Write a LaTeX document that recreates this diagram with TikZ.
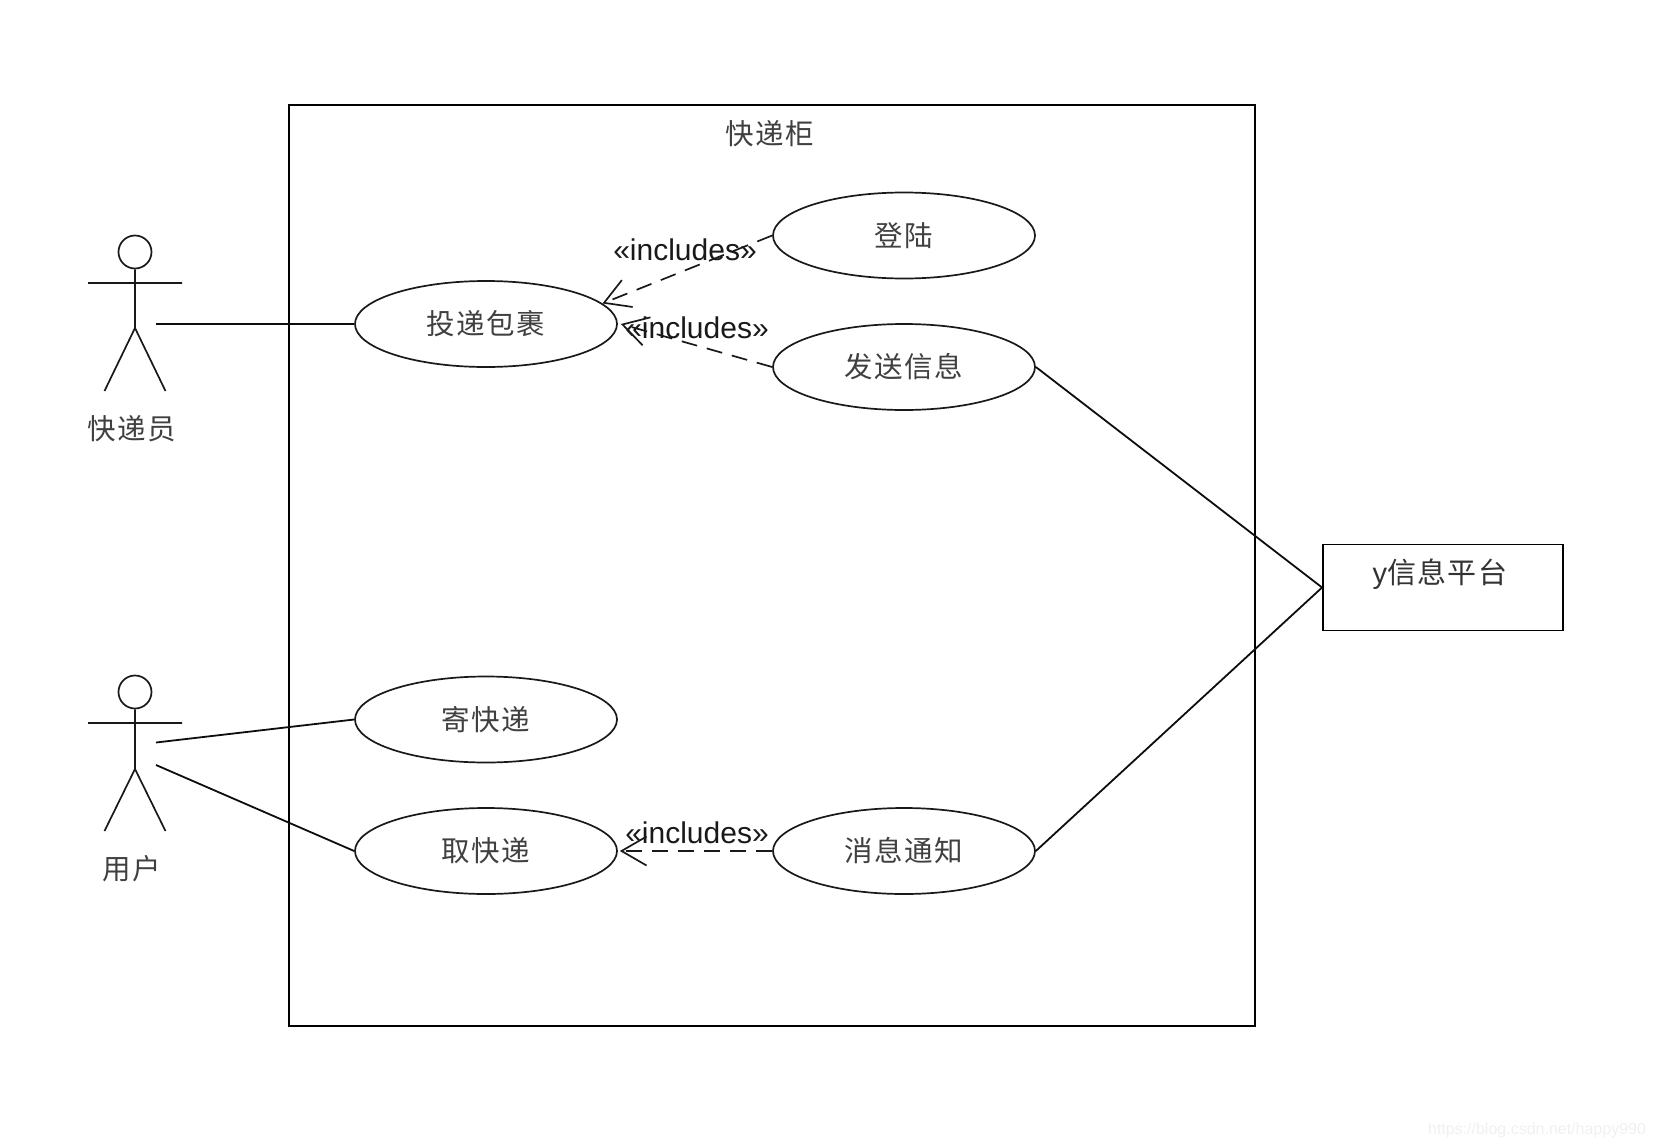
\documentclass[tikz,border=0pt]{standalone}
\usepackage{fontspec}
\setmainfont{Liberation Sans}
\newfontfamily\cjk[LetterSpace=5]{Noto Sans CJK SC}
\usetikzlibrary{shapes.geometric,arrows.meta}
\tikzset{
  usecase/.style={ellipse,draw,line width=1.7pt,black!90,minimum width=262pt,minimum height=86pt,inner sep=0pt,text=black!75,font=\fontsize{28.5}{30}\selectfont\cjk},
  boundary/.style={rectangle,draw,line width=1.9pt,inner sep=0pt},
  cnlabel/.style={inner sep=0pt,text=black!75,font=\fontsize{28.5}{30}\selectfont\cjk},
  stereotype/.style={inner sep=0pt,text=black!90,font=\fontsize{30}{32}\selectfont},
  incl/.style={line width=1.7pt,black!90,dash pattern=on 16pt off 10pt,-{Straight Barb[length=25pt,width=29pt,line width=1.7pt]}},
  assoc/.style={line width=1.8pt,black!95},
  actorline/.style={line width=1.7pt,black!90},
}
\begin{document}
\begin{tikzpicture}[x=1pt,y=-1pt]
\useasboundingbox (0,0) rectangle (1654,1148);
% system boundary
\node[boundary,minimum width=966pt,minimum height=921.5pt] (sys) at (772,565.5) {};
\node[cnlabel] (title) at (770,134) {快递柜};
% use cases
\node[usecase] (tou) at (486,324) {投递包裹};
\node[usecase] (deng) at (904,235.5) {登陆};
\node[usecase] (fa) at (904,367) {发送信息};
\node[usecase] (ji) at (486,719.5) {寄快递};
\node[usecase] (qu) at (486,851) {取快递};
\node[usecase] (xiao) at (904,851) {消息通知};
% external system
\node[boundary,minimum width=240pt,minimum height=86pt] (plat) at (1443,587.5) {};
\node[inner sep=0pt,text=black!80,font=\fontsize{29}{30}\selectfont] (plattext) at (1440,574) {y{\cjk 信息平台}};
% actor 1
\node[circle,draw,line width=1.7pt,black!90,minimum size=33pt,inner sep=0pt] (head1) at (135,252) {};
\coordinate (hip1) at (135,328);
\coordinate (armL1) at (88,283);
\coordinate (armR1) at (182,283);
\coordinate (legL1) at (104.5,391);
\coordinate (legR1) at (165.5,391);
\coordinate (a1) at (156,324);
\draw[actorline] (head1.south) -- (hip1) (armL1) -- (armR1) (legL1) -- (hip1) -- (legR1);
\node[cnlabel] (lab1) at (132,429) {快递员};
% actor 2
\node[circle,draw,line width=1.7pt,black!90,minimum size=33pt,inner sep=0pt] (head2) at (135,692) {};
\coordinate (hip2) at (135,769);
\coordinate (armL2) at (88,723);
\coordinate (armR2) at (182,723);
\coordinate (legL2) at (104.5,831);
\coordinate (legR2) at (165.5,831);
\coordinate (a2a) at (156,742.5);
\coordinate (a2b) at (156,765);
\draw[actorline] (head2.south) -- (hip2) (armL2) -- (armR2) (legL2) -- (hip2) -- (legR2);
\node[cnlabel] (lab2) at (132,869) {用户};
% associations
\draw[assoc] (a1) -- (tou.west);
\draw[assoc] (a2a) -- (ji.west);
\draw[assoc] (a2b) -- (qu.west);
\draw[assoc] (fa.east) -- (plat.west);
\draw[assoc] (xiao.east) -- (plat.west);
% includes
\draw[incl] (deng.west) -- (tou.10.9);
\draw[incl] (fa.west) -- ([xshift=3pt]tou.east);
\draw[incl] (xiao.west) -- ([xshift=2pt]qu.east);
\node[stereotype] (s1) at (685,250) {«includes»};
\node[stereotype] (s2) at (697,328) {«includes»};
\node[stereotype] (s3) at (697,833) {«includes»};
% watermark
\node[inner sep=0pt,text=black!6,font=\fontsize{16}{18}\selectfont] (wm) at (1537,1130) {https://blog.csdn.net/happy990};
\end{tikzpicture}
\end{document}
